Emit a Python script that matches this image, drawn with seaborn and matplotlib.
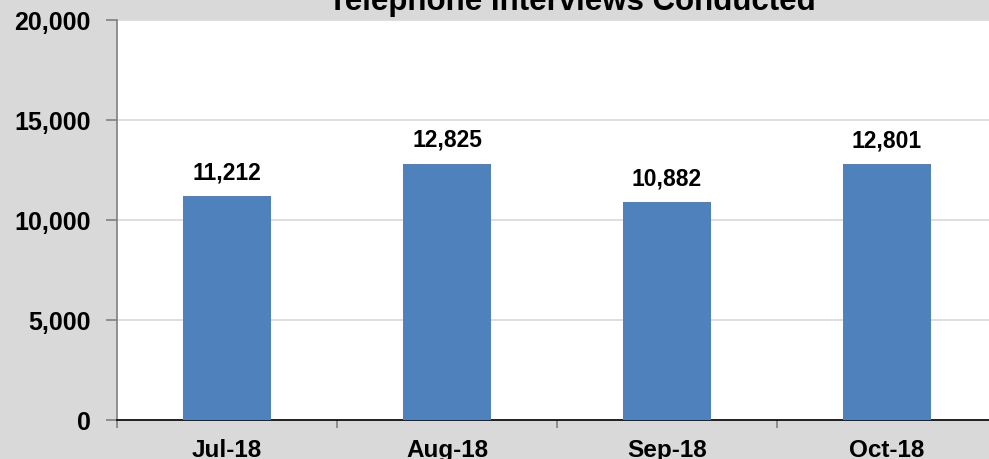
import matplotlib
matplotlib.use("Agg")
import matplotlib.pyplot as plt
import seaborn as sns
import pandas as pd
from matplotlib.ticker import FixedLocator, FuncFormatter

months = ["Jul-18", "Aug-18", "Sep-18", "Oct-18"]
interviews = [11212, 12825, 10882, 12801]
title = "Telephone Interviews Conducted"

df = pd.DataFrame({"month": months, "interviews": interviews})

sns.set_theme(style="white")
plt.rcParams["font.family"] = ["Liberation Sans", "DejaVu Sans"]
plt.rcParams["font.weight"] = "bold"
plt.rcParams["xtick.labelcolor"] = "black"
plt.rcParams["ytick.labelcolor"] = "black"

W, H = 989, 460
fig = plt.figure(figsize=(W / 100, H / 100), dpi=100, facecolor="#D9D9D9")
ax = fig.add_axes([117 / W, 39 / H, 880 / W, 400 / H])
ax.set_facecolor("white")

sns.barplot(data=df, x="month", y="interviews", color="#4F81BD", width=0.4,
            saturation=1, linewidth=0, ax=ax, zorder=3)

ax.set_xlim(-0.5, 3.5)
ax.set_ylim(0, 20000)
ax.yaxis.set_major_locator(FixedLocator([0, 5000, 10000, 15000, 20000]))
ax.yaxis.set_major_formatter(FuncFormatter(lambda v, p: f"{int(v):,}"))
ax.grid(axis="y", color="#D9D9D9", linewidth=1.2, zorder=0)
ax.set_axisbelow(True)

# category boundary ticks on x, labels at centres
ax.set_xticks([-0.5, 0.5, 1.5, 2.5, 3.5])
ax.set_xticklabels([])
ax.set_xticks(range(len(months)), minor=True)
ax.set_xticklabels(months, minor=True, fontsize=17.5, fontweight="bold", color="black")
ax.tick_params(axis="x", which="major", direction="out", length=6, width=1.2,
               color="#808080", bottom=True)
ax.tick_params(axis="x", which="minor", length=0, pad=13)
ax.tick_params(axis="y", direction="out", length=8, width=1.2, color="#808080",
               left=True, labelsize=18, pad=11)
for lab in ax.get_yticklabels():
    lab.set_fontweight("bold")
    lab.set_color("black")

ax.set_xlabel("")
ax.set_ylabel("")
for s in ["top", "right"]:
    ax.spines[s].set_visible(False)
ax.spines["left"].set_color("#808080")
ax.spines["left"].set_linewidth(1.2)
ax.spines["bottom"].set_color("black")
ax.spines["bottom"].set_linewidth(1.2)

for i, v in enumerate(interviews):
    ax.annotate(f"{v:,}", (i, v), xytext=(0, 9), textcoords="offset points",
                ha="center", va="bottom", fontsize=16.5, fontweight="bold",
                color="black")

fig.text(572 / W, 1 - 10 / H, title, ha="center", va="baseline",
         fontsize=22.5, fontweight="bold", color="black")

fig.savefig("out.png", dpi=100, facecolor=fig.get_facecolor())
